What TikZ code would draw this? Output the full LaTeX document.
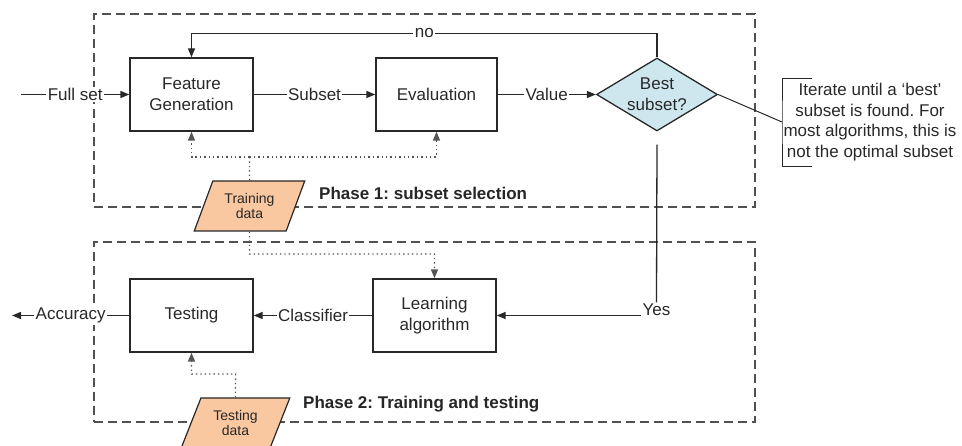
\documentclass[tikz,border=0pt]{standalone}
\usepackage{fontspec}
\setmainfont{Liberation Sans}
\usetikzlibrary{arrows.meta,shapes.geometric}
\frenchspacing

\definecolor{ink}{RGB}{40,40,40}
\definecolor{edge}{RGB}{40,40,40}
\definecolor{frame}{RGB}{80,80,80}
\definecolor{dots}{RGB}{85,85,85}
\definecolor{peach}{RGB}{249,200,160}
\definecolor{pale}{RGB}{206,231,238}

\begin{document}
\begin{tikzpicture}[x=1pt,y=-1pt,
  every node/.style={text=ink},
  txt/.style={font=\fontsize{17}{21}\selectfont},
  small/.style={font=\fontsize{14}{15}\selectfont},
  stepbox/.style={draw=edge, line width=1.3pt, minimum width=123pt,
    minimum height=73pt, inner sep=0pt, align=center, txt},
  decision/.style={diamond, draw=edge, line width=1.3pt, fill=pale,
    minimum width=121pt, minimum height=73pt, shape aspect=1.66,
    inner sep=0pt, align=center, txt},
  datain/.style={trapezium, trapezium left angle=63.4,
    trapezium right angle=116.6, trapezium stretches=true,
    draw=edge, line width=1.2pt, fill=peach, minimum width=111pt,
    minimum height=50pt, inner sep=0pt, align=center, small},
  phasebox/.style={draw=frame, line width=1.5pt, dash pattern=on 9pt off 5pt},
  phaselbl/.style={font=\bfseries\fontsize{17}{21}\selectfont, text=black!85,
    anchor=west, inner sep=0pt},
  conn/.style={draw=edge, line width=1.3pt},
  tip/.style={-{Triangle[length=9pt,width=7pt]}},
  dotline/.style={draw=dots, line width=1.4pt, dash pattern=on 1.4pt off 3pt},
  lbl/.style={txt, fill=white, inner sep=1.5pt},
]
\useasboundingbox (0,0) rectangle (962,446);

% dashed phase frames
\node[phasebox, minimum width=661pt, minimum height=193pt] (p1) at (424.5,110.5) {};
\node[phasebox, minimum width=661pt, minimum height=180pt] (p2) at (424.5,332) {};
\node[phaselbl] (p1lbl) at (319,193) {Phase 1: subset selection};
\node[phaselbl] (p2lbl) at (303,404) {Phase 2: Training and testing};

% process steps
\node[stepbox] (fg) at (191.5,94.5) {Feature\\Generation};
\node[stepbox, minimum width=121pt] (ev) at (436.5,94.5) {Evaluation};
\node[decision] (best) at (657,94.5) {Best\\subset?};
\node[stepbox] (learn) at (434.5,315.5) {Learning\\algorithm};
\node[stepbox] (test) at (191.5,315.5) {Testing};

% data inputs
\node[datain] (train) at (249.5,206) {Training\\data};
\node[datain, minimum width=109pt] (testd) at (235.5,423) {Testing\\data};

% free ends and junctions
\coordinate (in) at (21,94.5);
\coordinate (out) at (12,315.5);
\coordinate (tj) at (249.5,157);
\coordinate (tl) at (249.5,254);
\coordinate (tt) at (235.5,374);
\coordinate (bk) at (782,122);

% main flow
\draw[conn,tip] (in) -- node[lbl] {Full set} (fg.west);
\draw[conn,tip] (fg.east) -- node[lbl] {Subset} (ev.west);
\draw[conn,tip] (ev.east) -- node[lbl] {Value} (best.west);
\draw[conn,tip] (best.north) -- ++(0,-24) -| node[lbl, pos=0.25] {no} (fg.north);

\node[txt, inner sep=1.5pt] (yes) at (656.5,310) {Yes};
\draw[conn] ([yshift=-13pt]best.south) -- (yes.north);
\draw[conn,tip] (yes.west |- learn.east) -- (learn.east);
\draw[conn,tip] (learn.west) -- node[lbl] {Classifier} (test.east);
\draw[conn,tip] (test.west) -- node[lbl] {Accuracy} (out);

% data feeds
\draw[dotline] (train.north) -- (tj);
\draw[dotline,tip] (tj) -| (fg.south);
\draw[dotline,tip] (tj) -| (ev.south);
\draw[dotline,tip] (train.south) -- (tl) -| (learn.north);
\draw[dotline,tip] (testd.north) -- (tt) -| (test.south);

% annotation
\node[txt, align=center, font=\fontsize{17}{20.7}\selectfont] (note) at (870,122)
  {Iterate until a `best'\\subset is found. For\\most algorithms, this is\\not the optimal subset};
\draw[conn, line width=1pt] (best.east) -- (bk);
\draw[conn, line width=1pt] (812,79) -- (782,79) -- (bk) -- (782,167) -- (812,167);
\end{tikzpicture}
\end{document}
